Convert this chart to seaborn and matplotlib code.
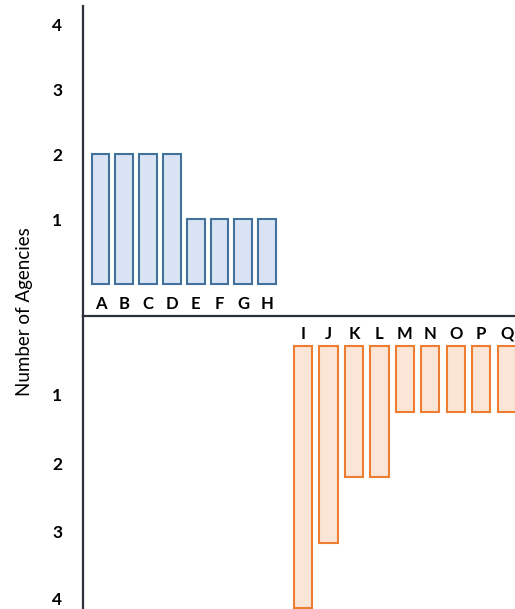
import matplotlib
matplotlib.use("Agg")
import matplotlib.pyplot as plt
import seaborn as sns

# Data: agencies counted above and below the line
upper_cats = ["A", "B", "C", "D", "E", "F", "G", "H"]
upper_vals = [2, 2, 2, 2, 1, 1, 1, 1]
lower_cats = ["I", "J", "K", "L", "M", "N", "O", "P", "Q"]
lower_vals = [4, 3, 2, 2, 1, 1, 1, 1, 1]
tick_labels = ["1", "2", "3", "4"]

# Style
sns.set_style("white")
plt.rcParams['font.family'] = ['Lato', 'DejaVu Sans']
line_col = "#2b313b"
blue_fill, blue_edge = "#dae3f3", "#41719c"
orange_fill, orange_edge = "#fbe5d6", "#ed7d31"

W, H = 515, 609
fig = plt.figure(figsize=(W / 100, H / 100), dpi=100)

# Top panel: 6px..316px, bottom panel: 316px..609px, both from x=83px
x0 = 83 / W
ax_top = fig.add_axes([x0, (H - 316) / H, 1 - x0, 310 / H])
ax_bot = fig.add_axes([x0, 0, 1 - x0, (H - 316) / H])
for ax in (ax_top, ax_bot):
    ax.patch.set_alpha(0)

# Upper bars
sns.barplot(x=upper_cats, y=upper_vals, ax=ax_top, color=blue_fill,
            saturation=1, edgecolor=blue_edge, linewidth=1.5, width=0.75)
ax_top.set_xlim(-0.736, 17.42)
ax_top.set_ylim(-0.492, 4.277)

# Lower bars, drawn downward
sns.barplot(x=lower_cats, y=lower_vals, ax=ax_bot, color=orange_fill,
            saturation=1, edgecolor=orange_edge, linewidth=1.5, width=0.72)
ax_bot.set_xlim(-8.64, 8.327)
ax_bot.set_ylim(4.009, -0.457)

# Category labels
for i, lab in enumerate(upper_cats):
    ax_top.text(i, -0.31, lab, ha='center', va='center', fontsize=12,
                fontweight='bold', color='black')
for i, lab in enumerate(lower_cats):
    ax_bot.text(i, -0.19, lab, ha='center', va='center', fontsize=12,
                fontweight='bold', color='black')

# Y ticks (lower labels sit a little above the bar ends, as in the sketch)
ax_top.set_yticks([1, 2, 3, 4], tick_labels)
ax_bot.set_yticks([0.74, 1.79, 2.83, 3.85], tick_labels)
for ax in (ax_top, ax_bot):
    ax.set_xticks([])
    ax.set_xlabel('')
    ax.set_ylabel('')
    ax.tick_params(axis='y', length=0, pad=15, labelsize=12.5,
                   labelcolor='black')
    for t in ax.get_yticklabels():
        t.set_fontweight('bold')
    ax.spines['top'].set_visible(False)
    ax.spines['right'].set_visible(False)
    ax.spines['left'].set_color(line_col)
    ax.spines['left'].set_linewidth(1.6)
ax_top.spines['bottom'].set_color(line_col)
ax_top.spines['bottom'].set_linewidth(1.6)
ax_bot.spines['bottom'].set_visible(False)

fig.text(25 / W, 1 - 312 / H, "Number of Agencies", rotation=90,
         ha='center', va='center', fontsize=13.5, color='black')

fig.savefig("out.png", dpi=100)
